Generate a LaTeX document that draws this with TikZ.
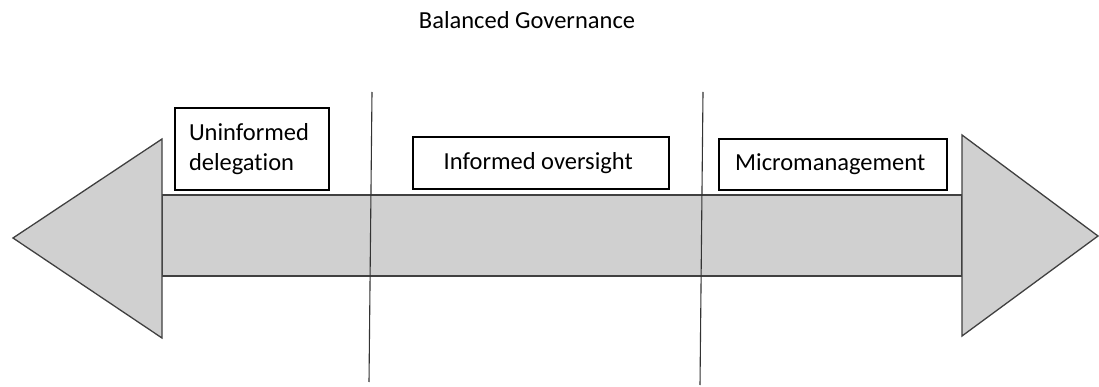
\documentclass[tikz,border=0pt]{standalone}
\usepackage{fontspec}
\setmainfont[Ligatures=NoCommon]{Carlito}
\usetikzlibrary{positioning}

\definecolor{bandGray}{RGB}{208,208,208}
\definecolor{edgeGray}{RGB}{64,64,64}

\begin{document}
\begin{tikzpicture}[
        x=1pt, y=-1pt,
        band/.style={
            draw=edgeGray,
            fill=bandGray,
            line width=1.3pt,
            line join=miter
        },
        labelBox/.style={
            draw=black,
            fill=white,
            line width=1.2pt,
            inner sep=0pt,
            align=center,
            font=\fontsize{24.5}{30}\selectfont
        },
        divider/.style={
            draw=black!80,
            line width=1.1pt
        },
        title/.style={
            font=\fontsize{24.5}{30}\selectfont
        }
    ]

        \useasboundingbox (0,0) rectangle (1099,387);

        % Heading
        \node[title] (heading) at (527,20) {Balanced Governance};

        % Shaft and the two heads
        \draw[band] (162,195) rectangle (962,276);
        \draw[band] (162,139) -- (13,238) -- (162,338) -- cycle;
        \draw[band] (962,135) -- (1098,236) -- (962,336) -- cycle;

        % Dividers between the three zones
        \coordinate (leftTop) at (372,92);
        \coordinate (leftBottom) at (369,382);
        \coordinate (rightTop) at (703,92);
        \coordinate (rightBottom) at (700,385);
        \draw[divider] (leftTop) -- (leftBottom);
        \draw[divider] (rightTop) -- (rightBottom);

        % Zone labels
        \node[
            labelBox,
            minimum width=154pt,
            minimum height=82pt,
            text width=126pt,
            align=left
        ] (delegation) at (252,149) {
            Uninformed\\
            delegation
        };

        \node[
            labelBox,
            minimum width=256pt,
            minimum height=52pt
        ] (oversight) at (541,163) {
            Informed oversight
        };

        \node[
            labelBox,
            minimum width=228pt,
            minimum height=51pt
        ] (micro) at (833,164.5) {
            Micromanagement
        };

    \end{tikzpicture}
\end{document}
